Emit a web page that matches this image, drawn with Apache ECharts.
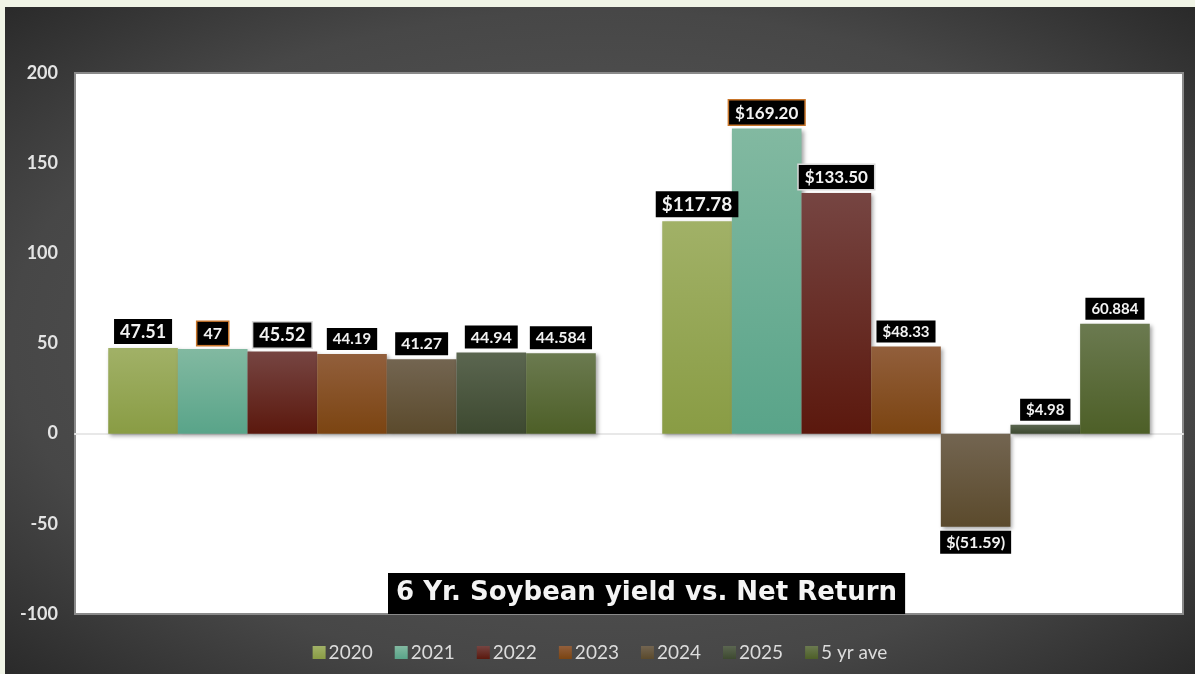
<!DOCTYPE html>
<html>
<head>
<meta charset="utf-8">
<title>6 Yr. Soybean yield vs. Net Return</title>
<script src="https://cdn.jsdelivr.net/npm/echarts@6/dist/echarts.min.js"></script>
<style>
    html, body { margin: 0; padding: 0; width: 1195px; height: 674px; background: #f0f4e6; overflow: hidden; }
    #main {
        position: absolute; left: 5px; top: 7px; width: 1190px; height: 667px;
        background: radial-gradient(ellipse farthest-corner at 50% 50%, #5e5e5e 0%, #474747 70%, #2a2a2a 100%);
    }
</style>
</head>
<body>
<div id="main"></div>
<script>
// data
var categories = ['Yield', 'Net Return'];
var seriesNames = ['2020', '2021', '2022', '2023', '2024', '2025', '5 yr ave'];
var yieldData = [47.51, 47, 45.52, 44.19, 41.27, 44.94, 44.584];
var returnData = [117.78, 169.20, 133.50, 48.33, -51.59, 4.98, 60.884];
var yieldLabels = ['47.51', '47', '45.52', '44.19', '41.27', '44.94', '44.584'];
var returnLabels = ['$117.78', '$169.20', '$133.50', '$48.33', '$(51.59)', '$4.98', '60.884'];
var yTicks = { min: -100, max: 200, interval: 50 };

// styles
var topColors = ['#a1b167', '#82b9a1', '#764542', '#925f3c', '#736551', '#5b6650', '#6b7a50'];
var bottomColors = ['#899c44', '#59a489', '#5b180d', '#7b4411', '#5b4a2c', '#3d4930', '#4d5f27'];
var labelBorders = ['', '#c8752a', '#d8d8d8', '', '', '', ''];
var yieldFont = [18, 16, 18, 15, 16, 16, 16];
var returnFont = [19, 17, 17, 15, 16, 15, 15];
var FONT = 'Lato, "DejaVu Sans", sans-serif';

var makeSeries = function (i) {
    var labelOf = function (text, size) {
        return {
            formatter: text,
            fontSize: size
        };
    };
    return {
        name: seriesNames[i],
        type: 'bar',
        barGap: '0%',
        barCategoryGap: '12%',
        itemStyle: {
            color: {
                type: 'linear', x: 0, y: 0, x2: 0, y2: 1,
                colorStops: [
                    { offset: 0, color: topColors[i] },
                    { offset: 1, color: bottomColors[i] }
                ]
            },
            shadowColor: 'rgba(0,0,0,0.35)',
            shadowBlur: 4,
            shadowOffsetX: 2,
            shadowOffsetY: 2
        },
        label: {
            show: true,
            position: 'outside',
            distance: 4,
            color: '#f2f2f2',
            fontFamily: FONT,
            fontWeight: 'bold',
            backgroundColor: '#000',
            borderColor: labelBorders[i] || 'transparent',
            borderWidth: labelBorders[i] ? 1.5 : 0,
            padding: [4, 6, 3, 6]
        },
        data: [
            { value: yieldData[i], label: labelOf(yieldLabels[i], yieldFont[i]) },
            { value: returnData[i], label: labelOf(returnLabels[i], returnFont[i]) }
        ]
    };
};

var series = [];
for (let i in seriesNames) {
    series.push(makeSeries(Number(i)));
}

var my_chart = echarts.init(document.getElementById('main'));
var option = {
    animation: false,
    title: {
        text: '6 Yr. Soybean yield vs. Net Return',
        left: 383,
        top: 566,
        backgroundColor: '#000',
        padding: [4, 8, 5, 8],
        textStyle: {
            color: '#f4f4f4',
            fontFamily: '"DejaVu Sans", sans-serif',
            fontWeight: 'bold',
            fontSize: 26,
            lineHeight: 32
        }
    },
    legend: {
        data: seriesNames,
        top: 631,
        left: 'center',
        icon: 'rect',
        itemWidth: 13,
        itemHeight: 13,
        itemGap: 22,
        textStyle: {
            color: '#dcdcdc',
            fontFamily: FONT,
            fontSize: 19,
            padding: [0, 0, 0, -2]
        }
    },
    grid: {
        left: 70,
        right: 12,
        top: 66,
        bottom: 60,
        show: true,
        backgroundColor: '#ffffff',
        borderColor: '#8a8a8a',
        borderWidth: 2
    },
    xAxis: {
        type: 'category',
        data: categories,
        axisTick: { show: false },
        axisLabel: { show: false },
        axisLine: { lineStyle: { color: '#e8e8e8', width: 2 } }
    },
    yAxis: {
        type: 'value',
        min: yTicks.min,
        max: yTicks.max,
        interval: yTicks.interval,
        splitLine: { show: false },
        axisLine: { show: false },
        axisTick: { show: false },
        axisLabel: {
            color: '#e4e4e4',
            fontFamily: FONT,
            fontWeight: 'bold',
            fontSize: 18,
            margin: 17
        }
    },
    series: series
};
my_chart.setOption(option);
</script>
</body>
</html>
